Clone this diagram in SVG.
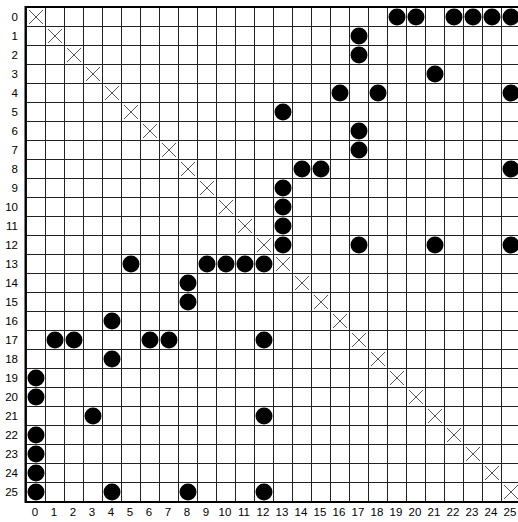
<svg xmlns="http://www.w3.org/2000/svg" xmlns:xlink="http://www.w3.org/1999/xlink" width="518" height="522" viewBox="0 0 518 522">
<style>
.grid{stroke:#222;stroke-width:1;fill:none}
.border{stroke:#000;stroke-width:2;fill:none}
.x{stroke:#555;stroke-width:1;fill:none}
.dot{fill:#000}
text{font-family:"Liberation Sans",Arial,sans-serif;font-size:11.5px;fill:#000}
.rl{text-anchor:end}
.cl{text-anchor:middle}
</style>
<defs>
<circle id="dot" class="dot" cx="0" cy="0" r="8.5"/>
<path id="xm" class="x" d="M-7-7L7 7M7-7L-7 7"/>
</defs>
<rect width="518" height="522" fill="#fff"/>
<g id="grid">
<path class="grid" d="M26.5 7V502M45.5 7V502M64.5 7V502M83.5 7V502M102.5 7V502M121.5 7V502M140.5 7V502M159.5 7V502M178.5 7V502M197.5 7V502M216.5 7V502M235.5 7V502M254.5 7V502M273.5 7V502M292.5 7V502M311.5 7V502M330.5 7V502M349.5 7V502M368.5 7V502M387.5 7V502M406.5 7V502M425.5 7V502M444.5 7V502M463.5 7V502M482.5 7V502M501.5 7V502"/>
<path class="grid" d="M26 7.5H518M26 26.5H518M26 45.5H518M26 64.5H518M26 83.5H518M26 102.5H518M26 121.5H518M26 140.5H518M26 159.5H518M26 178.5H518M26 197.5H518M26 216.5H518M26 235.5H518M26 254.5H518M26 273.5H518M26 292.5H518M26 311.5H518M26 330.5H518M26 349.5H518M26 368.5H518M26 387.5H518M26 406.5H518M26 425.5H518M26 444.5H518M26 463.5H518M26 482.5H518M26 501.5H518"/>
<path class="border" d="M518 7H25.5V502H518"/>
</g>
<g id="diagonal">
<use href="#xm" x="36" y="17"/><use href="#xm" x="55" y="36"/><use href="#xm" x="74" y="55"/><use href="#xm" x="93" y="74"/><use href="#xm" x="112" y="93"/><use href="#xm" x="131" y="112"/><use href="#xm" x="150" y="131"/><use href="#xm" x="169" y="150"/><use href="#xm" x="188" y="169"/><use href="#xm" x="207" y="188"/><use href="#xm" x="226" y="207"/><use href="#xm" x="245" y="226"/><use href="#xm" x="264" y="245"/><use href="#xm" x="283" y="264"/><use href="#xm" x="302" y="283"/><use href="#xm" x="321" y="302"/><use href="#xm" x="340" y="321"/><use href="#xm" x="359" y="340"/><use href="#xm" x="378" y="359"/><use href="#xm" x="397" y="378"/><use href="#xm" x="416" y="397"/><use href="#xm" x="435" y="416"/><use href="#xm" x="454" y="435"/><use href="#xm" x="473" y="454"/><use href="#xm" x="492" y="473"/><use href="#xm" x="511" y="492"/>
</g>
<g id="dots">
<use href="#dot" x="397" y="17"/><use href="#dot" x="416" y="17"/><use href="#dot" x="454" y="17"/><use href="#dot" x="473" y="17"/><use href="#dot" x="492" y="17"/><use href="#dot" x="511" y="17"/>
<use href="#dot" x="359" y="36"/>
<use href="#dot" x="359" y="55"/>
<use href="#dot" x="435" y="74"/>
<use href="#dot" x="340" y="93"/><use href="#dot" x="378" y="93"/><use href="#dot" x="511" y="93"/>
<use href="#dot" x="283" y="112"/>
<use href="#dot" x="359" y="131"/>
<use href="#dot" x="359" y="150"/>
<use href="#dot" x="302" y="169"/><use href="#dot" x="321" y="169"/><use href="#dot" x="511" y="169"/>
<use href="#dot" x="283" y="188"/>
<use href="#dot" x="283" y="207"/>
<use href="#dot" x="283" y="226"/>
<use href="#dot" x="283" y="245"/><use href="#dot" x="359" y="245"/><use href="#dot" x="435" y="245"/><use href="#dot" x="511" y="245"/>
<use href="#dot" x="131" y="264"/><use href="#dot" x="207" y="264"/><use href="#dot" x="226" y="264"/><use href="#dot" x="245" y="264"/><use href="#dot" x="264" y="264"/>
<use href="#dot" x="188" y="283"/>
<use href="#dot" x="188" y="302"/>
<use href="#dot" x="112" y="321"/>
<use href="#dot" x="55" y="340"/><use href="#dot" x="74" y="340"/><use href="#dot" x="150" y="340"/><use href="#dot" x="169" y="340"/><use href="#dot" x="264" y="340"/>
<use href="#dot" x="112" y="359"/>
<use href="#dot" x="36" y="378"/>
<use href="#dot" x="36" y="397"/>
<use href="#dot" x="93" y="416"/><use href="#dot" x="264" y="416"/>
<use href="#dot" x="36" y="435"/>
<use href="#dot" x="36" y="454"/>
<use href="#dot" x="36" y="473"/>
<use href="#dot" x="36" y="492"/><use href="#dot" x="112" y="492"/><use href="#dot" x="188" y="492"/><use href="#dot" x="264" y="492"/>
</g>
<g id="row-labels">
<text class="rl" x="18" y="21">0</text><text class="rl" x="18" y="40">1</text><text class="rl" x="18" y="59">2</text><text class="rl" x="18" y="78">3</text><text class="rl" x="18" y="97">4</text><text class="rl" x="18" y="116">5</text><text class="rl" x="18" y="135">6</text><text class="rl" x="18" y="154">7</text><text class="rl" x="18" y="173">8</text><text class="rl" x="18" y="192">9</text><text class="rl" x="18" y="211">10</text><text class="rl" x="18" y="230">11</text><text class="rl" x="18" y="249">12</text><text class="rl" x="18" y="268">13</text><text class="rl" x="18" y="287">14</text><text class="rl" x="18" y="306">15</text><text class="rl" x="18" y="325">16</text><text class="rl" x="18" y="344">17</text><text class="rl" x="18" y="363">18</text><text class="rl" x="18" y="382">19</text><text class="rl" x="18" y="401">20</text><text class="rl" x="18" y="420">21</text><text class="rl" x="18" y="439">22</text><text class="rl" x="18" y="458">23</text><text class="rl" x="18" y="477">24</text><text class="rl" x="18" y="496">25</text>
</g>
<g id="col-labels">
<text class="cl" x="35" y="516">0</text><text class="cl" x="54" y="516">1</text><text class="cl" x="73" y="516">2</text><text class="cl" x="92" y="516">3</text><text class="cl" x="111" y="516">4</text><text class="cl" x="130" y="516">5</text><text class="cl" x="149" y="516">6</text><text class="cl" x="168" y="516">7</text><text class="cl" x="187" y="516">8</text><text class="cl" x="206" y="516">9</text><text class="cl" x="225" y="516">10</text><text class="cl" x="244" y="516">11</text><text class="cl" x="263" y="516">12</text><text class="cl" x="282" y="516">13</text><text class="cl" x="301" y="516">14</text><text class="cl" x="320" y="516">15</text><text class="cl" x="339" y="516">16</text><text class="cl" x="358" y="516">17</text><text class="cl" x="377" y="516">18</text><text class="cl" x="396" y="516">19</text><text class="cl" x="415" y="516">20</text><text class="cl" x="434" y="516">21</text><text class="cl" x="453" y="516">22</text><text class="cl" x="472" y="516">23</text><text class="cl" x="491" y="516">24</text><text class="cl" x="510" y="516">25</text>
</g>
</svg>
